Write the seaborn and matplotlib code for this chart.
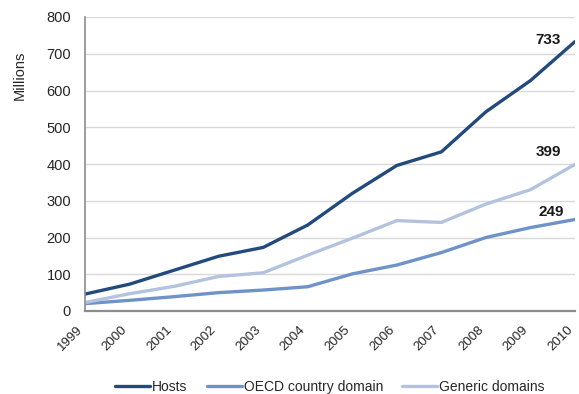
import matplotlib
matplotlib.use("Agg")
import matplotlib.pyplot as plt
import seaborn as sns
import pandas as pd

years = [1999, 2000, 2001, 2002, 2003, 2004, 2005, 2006, 2007, 2008, 2009, 2010]
hosts = [46, 73, 111, 149, 173, 234, 320, 396, 433, 542, 627, 733]
oecd_country = [20, 29, 39, 50, 57, 66, 101, 125, 159, 200, 227, 249]
generic = [23, 47, 67, 94, 104, 152, 198, 246, 241, 291, 330, 399]
series_names = ["Hosts", "OECD country domain", "Generic domains"]
colors = ["#234a7c", "#6f93c8", "#b3c3de"]

df = pd.DataFrame({"year": years, series_names[0]: hosts,
                   series_names[1]: oecd_country, series_names[2]: generic})
long = df.melt(id_vars="year", var_name="series", value_name="value")
long["pos"] = long["year"] - years[0]

sns.set_theme(style="white")
plt.rcParams["font.family"] = ["Liberation Sans Narrow", "Liberation Sans", "DejaVu Sans"]

fig = plt.figure(figsize=(5.79, 3.94), dpi=100)
ax = fig.add_axes([85 / 579, 83 / 394, 490 / 579, 294 / 394])

sns.lineplot(data=long, x="pos", y="value", hue="series", hue_order=series_names,
             palette=colors, linewidth=2.4, ax=ax, legend=True)

ax.set_xlim(0, len(years) - 1)
ax.set_ylim(0, 800)
ax.set_yticks(range(0, 801, 100))
ax.set_xticks(range(len(years)))
ax.set_xticklabels([str(y) for y in years], rotation=45, ha="right", va="top",
                   rotation_mode="default", fontsize=9.5)
ax.tick_params(axis="y", labelsize=10.5, length=0, pad=10)
ax.tick_params(axis="x", length=0, pad=9)
ax.yaxis.grid(True, color="#d9d9d9", linewidth=1)
ax.set_axisbelow(True)
ax.set_xlabel("")
ax.set_ylabel("Millions", fontsize=10.5)
ax.yaxis.set_label_coords(-0.118, 0.803)

for side in ["top", "right"]:
    ax.spines[side].set_visible(False)
ax.spines["left"].set_color("#8c8c8c")
ax.spines["left"].set_linewidth(1.2)
ax.spines["bottom"].set_color("#8c8c8c")
ax.spines["bottom"].set_linewidth(1.6)

# end-of-series value labels
label_offsets = [(-27, 2), (-24, 7), (-27, 12)]
for vals, off in zip([hosts, oecd_country, generic], label_offsets):
    ax.annotate(str(vals[-1]), xy=(len(years) - 1, vals[-1]), xytext=off,
                textcoords="offset pixels", ha="center", va="center",
                fontsize=11, fontweight="bold", color="#1a1a1a")

handles, labels = ax.get_legend_handles_labels()
leg = ax.legend(handles, labels, loc="center", ncol=3, frameon=False, fontsize=10,
                handlelength=2.5, handletextpad=0.15, columnspacing=1.4,
                bbox_to_anchor=(330 / 579, 7 / 394), bbox_transform=fig.transFigure)

fig.savefig("out.png", dpi=100)
